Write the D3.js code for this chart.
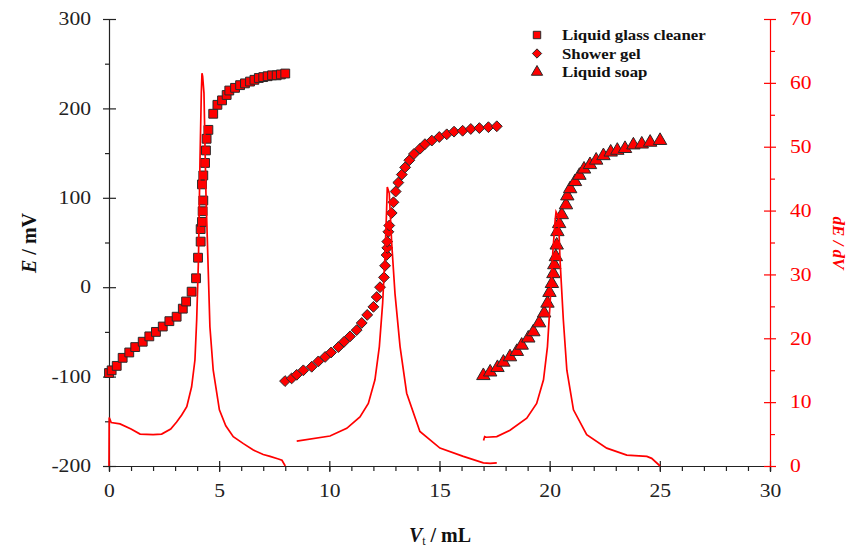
<!DOCTYPE html>
<html>
<head>
<meta charset="utf-8">
<script src="https://cdn.jsdelivr.net/npm/d3@7"></script>
<style>
  body { margin: 0; background: #fff; }
  svg text { font-family: "Liberation Serif", "Times New Roman", serif; }
</style>
</head>
<body>
<div class="chart"></div>
<script>
// titration curves, E vs Vt (left axis) and dE/dV (right axis)
var seriesNames = ["Liquid glass cleaner", "Shower gel", "Liquid soap"];

var cleanerV = [0.0, 0.12, 0.35, 0.62, 0.92, 1.19, 1.53, 1.83, 2.13, 2.44, 2.74, 3.07, 3.35, 3.50, 3.75, 3.95, 4.04, 4.16, 4.16, 4.22, 4.25, 4.28, 4.22, 4.28, 4.36, 4.40, 4.43, 4.51, 4.73, 4.92, 5.13, 5.34, 5.46, 5.72, 5.95, 6.17, 6.40, 6.60, 6.80, 7.00, 7.20, 7.40, 7.61, 7.80, 8.0];
var cleanerE = [-96, -93, -88, -79, -73, -67, -61, -55, -50, -44, -38, -33, -24, -16, -5, 10, 33, 51, 65, 73, 85, 97, 115, 125, 139, 153, 166, 176, 194, 204, 209, 215, 220, 223, 226, 228, 230, 232, 234, 235, 236, 237, 237, 238, 239];

var gelV = [7.99, 8.29, 8.52, 8.82, 9.20, 9.50, 9.81, 10.08, 10.41, 10.67, 10.94, 11.24, 11.47, 11.72, 12.0, 12.15, 12.30, 12.48, 12.53, 12.60, 12.63, 12.63, 12.68, 12.72, 12.83, 12.91, 13.01, 13.13, 13.29, 13.44, 13.63, 13.84, 14.12, 14.34, 14.65, 14.99, 15.33, 15.66, 16.05, 16.42, 16.81, 17.22, 17.60];
var gelE = [-105, -102, -98, -93, -89, -83, -78, -73, -67, -61, -55, -48, -40, -31, -22, -11, 0, 11, 24, 36, 44, 51, 62, 69, 83, 95, 107, 117, 126, 134, 142, 149, 155, 160, 164, 168, 171, 174, 175, 177, 178, 179, 180];

var soapV = [16.99, 17.30, 17.63, 17.90, 18.2, 18.51, 18.73, 19.03, 19.26, 19.52, 19.75, 19.90, 19.99, 20.10, 20.17, 20.21, 20.28, 20.32, 20.35, 20.43, 20.55, 20.74, 20.80, 20.93, 21.15, 21.35, 21.56, 21.83, 22.11, 22.44, 22.77, 23.07, 23.42, 23.80, 24.18, 24.56, 25.01];
var soapE = [-99, -95, -90, -84, -78, -72, -65, -57, -50, -40, -29, -18, -6, 4, 15, 25, 34, 47, 62, 71, 81, 92, 102, 110, 118, 125, 132, 137, 142, 147, 151, 153, 155, 159, 160, 162, 164];

// first derivative curves
var cleanerDV = [0, 0.01, 0.1, 0.5, 1.0, 1.41, 2.0, 2.39, 2.8, 3.07, 3.3, 3.53, 3.75, 3.90, 3.98, 4.06, 4.13, 4.19, 4.22, 4.25, 4.31, 4.40, 4.58, 4.73, 5.01, 5.3, 5.64, 6.1, 6.55, 7.0, 7.31, 7.69, 7.85, 8.0];
var cleanerD = [0, 7.6, 6.8, 6.6, 5.8, 5.0, 4.9, 5.0, 5.8, 6.9, 8.0, 9.3, 12.4, 16.6, 22.9, 32.3, 47.9, 58.4, 61.5, 61.0, 58.4, 42.7, 21.8, 15, 8.8, 6.3, 4.6, 3.5, 2.5, 1.8, 1.5, 1.1, 0.9, 0];

var gelDV = [8.52, 10.03, 10.79, 11.39, 11.77, 12.07, 12.27, 12.42, 12.53, 12.60, 12.63, 12.72, 12.83, 12.98, 13.21, 13.51, 14.11, 15.02, 16.08, 16.99, 17.3, 17.6];
var gelD = [3.9, 4.7, 5.9, 7.7, 9.8, 13.5, 18.7, 25.5, 33.3, 40.1, 43.7, 42.7, 34.9, 27, 18.7, 11.4, 5.4, 2.8, 1.5, 0.5, 0.4, 0.5];

var soapDV = [17.0, 17.05, 17.12, 17.6, 18.2, 18.96, 19.41, 19.72, 19.90, 20.02, 20.14, 20.25, 20.29, 20.40, 20.47, 20.62, 20.78, 21.08, 21.68, 22.59, 23.50, 24.41, 24.63, 25.01];
var soapD = [4.0, 4.6, 4.5, 4.6, 5.6, 7.5, 9.8, 13.5, 18.7, 25.5, 33.3, 38.5, 39.8, 39.0, 32.3, 22.9, 15, 8.8, 4.9, 2.8, 1.7, 1.5, 1.2, 0];

var xTicks = [0, 5, 10, 15, 20, 25, 30];
var eTicks = [-200, -100, 0, 100, 200, 300];
var dTicks = [0, 10, 20, 30, 40, 50, 60, 70];

var width = 847, height = 550;
var svg = d3.select(".chart").append("svg")
    .attr("width", width)
    .attr("height", height);

var x = d3.scaleLinear().domain([0, 30]).range([109, 770]);
var yE = d3.scaleLinear().domain([-200, 300]).range([466, 19]);
var yD = d3.scaleLinear().domain([0, 70]).range([466, 19]);

function zip(a, b) { return a.map(function (v, i) { return [v, b[i]]; }); }
function plain(d) { return String(d); }   // keep the ASCII hyphen for negatives

// widen text glyphs horizontally (reference font looks stretched)
function stretch(sel, k) {
  sel.each(function () {
    var w = this.getComputedTextLength();
    d3.select(this).attr("textLength", w * k).attr("lengthAdjust", "spacingAndGlyphs");
  });
}

// ---- axes ----
var gx = svg.append("g").attr("transform", "translate(0," + yE(-200) + ")");
gx.call(d3.axisBottom(x).tickValues(d3.range(0, 31, 1)).tickSize(5).tickFormat(""));
gx.append("g").call(d3.axisBottom(x).tickValues(xTicks).tickSize(6).tickPadding(12).tickFormat(plain))
  .call(function (g) { g.select(".domain").remove(); g.selectAll("line").attr("y1", -5); });

var gl = svg.append("g").attr("transform", "translate(" + x(0) + ",0)");
gl.call(d3.axisLeft(yE).tickValues(d3.range(-150, 300, 100)).tickSize(4).tickFormat(""));
gl.append("g").call(d3.axisLeft(yE).tickValues(eTicks).tickSize(6).tickPadding(12).tickFormat(plain))
  .call(function (g) { g.select(".domain").remove(); g.selectAll("line").attr("x1", 7); });

var gr = svg.append("g").attr("transform", "translate(" + x(30) + ",0)");
gr.call(d3.axisRight(yD).tickValues(d3.range(5, 70, 10)).tickSize(5).tickFormat(""));
gr.append("g").call(d3.axisRight(yD).tickValues(dTicks).tickSize(6).tickPadding(14).tickFormat(plain))
  .call(function (g) { g.select(".domain").remove(); g.selectAll("line").attr("x1", -6); });

svg.selectAll(".domain, .tick line").attr("stroke", "#222").attr("stroke-width", 1.2);
gr.selectAll(".domain, .tick line").attr("stroke", "red");
svg.selectAll(".tick text")
   .style("font-family", "'Liberation Serif', 'Times New Roman', serif")
   .style("font-size", "18px")
   .attr("fill", "#222");
gr.selectAll(".tick text").attr("fill", "red");
stretch(svg.selectAll(".tick text"), 1.2);

// ---- derivative lines ----
var line = d3.line()
    .x(function (d) { return x(d[0]); })
    .y(function (d) { return yD(d[1]); });

// ---- markers ----
var diamond = d3.symbolDiamond2 || d3.symbolDiamond;
var markerSets = [
  { v: cleanerV, e: cleanerE, sym: d3.symbolSquare, size: 78 },
  { v: gelV, e: gelE, sym: diamond, size: 75 },
  { v: soapV, e: soapE, sym: d3.symbolTriangle, size: 78 }
];

markerSets.forEach(function (s) {
  svg.append("g").selectAll("path")
    .data(zip(s.v, s.e))
    .enter().append("path")
    .attr("transform", function (d) { return "translate(" + x(d[0]) + "," + yE(d[1]) + ")"; })
    .attr("d", d3.symbol().type(s.sym).size(s.size))
    .attr("fill", "#ff0000")
    .attr("stroke", "#2a2a2a")
    .attr("stroke-width", 1);
});

[[cleanerDV, cleanerD], [gelDV, gelD], [soapDV, soapD]].forEach(function (p) {
  svg.append("path")
    .datum(zip(p[0], p[1]))
    .attr("d", line)
    .attr("fill", "none")
    .attr("stroke", "#ff0000")
    .attr("stroke-width", 1.7);
});

// ---- legend ----
var legend = svg.append("g");
var legSyms = [d3.symbolSquare, diamond, d3.symbolTriangle];
seriesNames.forEach(function (name, i) {
  var ly = 35 + i * 18.5;
  legend.append("path")
    .attr("transform", "translate(537," + ly + ")")
    .attr("d", d3.symbol().type(legSyms[i]).size(55))
    .attr("fill", "#ff0000")
    .attr("stroke", "#2a2a2a");
  legend.append("text")
    .attr("x", 562).attr("y", ly + 5)
    .style("font-size", "15px").attr("font-weight", "bold")
    .attr("fill", "#111")
    .text(name);
});
stretch(legend.selectAll("text"), 1.12);

// ---- axis titles ----
var tl = svg.append("text")
    .attr("transform", "translate(36,243) rotate(-90)")
    .attr("text-anchor", "middle")
    .style("font-size", "20px").attr("font-weight", "bold").attr("fill", "#111");
tl.append("tspan").attr("font-style", "italic").text("E");
tl.append("tspan").text(" / mV");

var tb = svg.append("text")
    .attr("x", 440).attr("y", 542)
    .attr("text-anchor", "middle")
    .style("font-size", "20px").attr("font-weight", "bold").attr("fill", "#111");
tb.append("tspan").attr("font-style", "italic").text("V");
tb.append("tspan").style("font-size", "12px").attr("font-weight", "normal").attr("dy", 3).text("t");
tb.append("tspan").attr("dy", -3).text(" / mL");

var tr = svg.append("text")
    .attr("transform", "translate(833,243) rotate(90)")
    .attr("text-anchor", "middle")
    .style("font-size", "17px").attr("font-weight", "bold").attr("font-style", "italic")
    .attr("fill", "red")
    .text("dE / dV");
</script>
</body>
</html>
